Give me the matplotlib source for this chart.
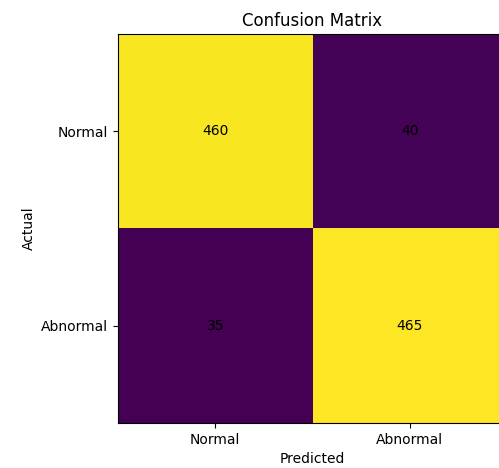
import numpy as np
import matplotlib
matplotlib.use("Agg")
import matplotlib.pyplot as plt

# confusion matrix values
labels = ["Normal", "Abnormal"]
cm = np.array([[460, 40],
               [35, 465]])

fig = plt.figure(figsize=(4.99, 4.68), dpi=100)
ax = fig.add_axes([0.2365, 0.0962, 0.7796, 0.831])
ax.imshow(cm, cmap="viridis", aspect="auto")

for i in range(cm.shape[0]):
    for j in range(cm.shape[1]):
        ax.text(j, i, str(cm[i, j]), ha="center", va="center", color="black", fontsize=10)

ax.set_xticks(range(len(labels)))
ax.set_xticklabels(labels)
ax.set_yticks(range(len(labels)))
ax.set_yticklabels(labels)
ax.set_xlabel("Predicted")
ax.set_ylabel("Actual")
ax.set_title("Confusion Matrix")

fig.savefig("out.png", dpi=100)
